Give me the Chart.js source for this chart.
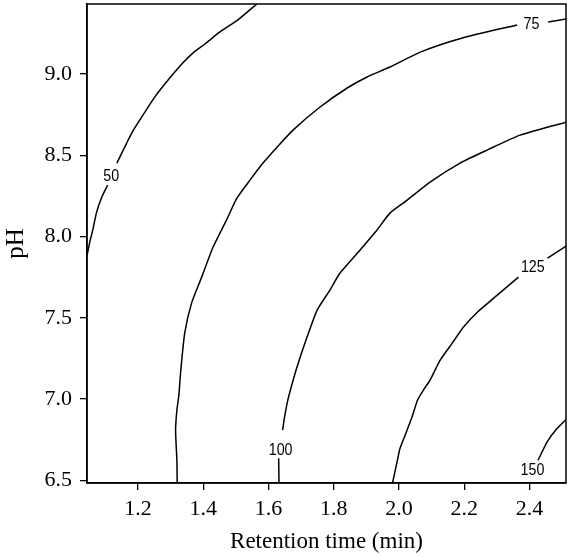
<!DOCTYPE html>
<html>
<head>
<meta charset="utf-8">
<title>Contour plot</title>
<script src="https://cdn.jsdelivr.net/npm/chart.js@4.4.1/dist/chart.umd.min.js"></script>
<style>
  html, body { margin: 0; padding: 0; background: #fff; }
  canvas { display: block; }
</style>
</head>
<body>
<canvas id="contour" width="569" height="557"></canvas>
<script>
// axis ticks
const xTicks = [1.2, 1.4, 1.6, 1.8, 2.0, 2.2, 2.4];
const yTicks = [6.5, 7.0, 7.5, 8.0, 8.5, 9.0];

// contour levels and where their labels sit (data units)
const levels = ['50', '75', '100', '125', '150'];
const labelX = [1.118, 2.406, 1.637, 2.410, 2.409];
const labelY = [8.370, 9.305, 6.687, 7.810, 6.560];

// contour lines (null = gap left for the label)
const c50x = [1.044, 1.052, 1.061, 1.073, 1.089, 1.107, null, 1.135, 1.147, 1.165, 1.184, 1.221, 1.251, 1.297, 1.337, 1.368, 1.405, 1.451, 1.506, 1.564];
const c50y = [7.885, 7.966, 8.039, 8.150, 8.243, 8.317, null, 8.452, 8.501, 8.575, 8.649, 8.766, 8.858, 8.975, 9.068, 9.129, 9.185, 9.259, 9.333, 9.431];

const c75x = [1.320, 1.319, 1.315, 1.319, 1.325, 1.331, 1.343, 1.364, 1.395, 1.430, 1.471, 1.503, 1.543, 1.583, 1.626, 1.675, 1.758, 1.841, 1.902, 1.972, 2.065, 2.194, 2.362, null, 2.457, 2.512];
const c75y = [6.483, 6.623, 6.808, 6.931, 7.023, 7.177, 7.405, 7.590, 7.750, 7.935, 8.101, 8.236, 8.347, 8.452, 8.550, 8.655, 8.797, 8.914, 8.982, 9.043, 9.135, 9.222, 9.302, null, 9.320, 9.339];

const c100x = [1.632, 1.631, null, 1.643, 1.650, 1.659, 1.671, 1.687, 1.718, 1.749, 1.788, 1.819, 1.880, 1.932, 1.972, 2.025, 2.095, 2.187, 2.270, 2.371, 2.512];
const c100y = [6.483, 6.636, null, 6.808, 6.900, 6.993, 7.085, 7.196, 7.381, 7.547, 7.670, 7.775, 7.916, 8.039, 8.144, 8.224, 8.335, 8.452, 8.532, 8.624, 8.704];

const c125x = [1.980, 1.993, 2.003, 2.019, 2.040, 2.057, 2.075, 2.095, 2.126, 2.163, 2.197, 2.240, 2.301, 2.366, null, 2.455, 2.512];
const c125y = [6.483, 6.605, 6.697, 6.779, 6.890, 6.995, 7.056, 7.116, 7.239, 7.344, 7.442, 7.534, 7.639, 7.750, null, 7.867, 7.941];

const c150x = [2.426, 2.454, 2.484, 2.512];
const c150y = [6.623, 6.736, 6.818, 6.874];

const serif = "'Liberation Serif', 'Times New Roman', serif";

function toPoints(xs, ys) {
  return xs.map(function (v, i) { return { x: v, y: ys[i] }; });
}

function contourSet(xs, ys) {
  return {
    data: toPoints(xs, ys),
    showLine: true,
    borderColor: '#000',
    borderWidth: 1.5,
    pointRadius: 0,
    tension: 0.2,
    spanGaps: false
  };
}

// box round the plot + level labels (narrowed a bit, like the original font)
const frameAndLabels = {
  id: 'frameAndLabels',
  afterDatasetsDraw(chart) {
    const ctx = chart.ctx;
    const a = chart.chartArea;
    const x = chart.scales.x, y = chart.scales.y;
    ctx.save();
    ctx.strokeStyle = '#000';
    ctx.lineWidth = 1.5;
    ctx.strokeRect(a.left, a.top, a.right - a.left, a.bottom - a.top);
    ctx.font = "17px 'Liberation Sans', sans-serif";
    ctx.fillStyle = '#000';
    ctx.textAlign = 'center';
    ctx.textBaseline = 'middle';
    levels.forEach(function (t, i) {
      ctx.save();
      ctx.translate(x.getPixelForValue(labelX[i]), y.getPixelForValue(labelY[i]));
      ctx.scale(0.84, 1);
      ctx.fillText(t, 0, 0);
      ctx.restore();
    });
    ctx.restore();
  }
};

new Chart(document.getElementById('contour'), {
  type: 'scatter',
  data: {
    datasets: [
      contourSet(c50x, c50y),
      contourSet(c75x, c75y),
      contourSet(c100x, c100y),
      contourSet(c125x, c125y),
      contourSet(c150x, c150y)
    ]
  },
  options: {
    responsive: false,
    animation: false,
    devicePixelRatio: 1,
    layout: { padding: { top: 4, right: 3, bottom: 0, left: 0 } },
    plugins: {
      legend: { display: false },
      tooltip: { enabled: false }
    },
    scales: {
      x: {
        type: 'linear',
        min: 1.0435,
        max: 2.5117,
        afterBuildTicks: function (s) { s.ticks = xTicks.map(function (v) { return { value: v }; }); },
        afterFit: function (s) { s.height = 74; s.paddingLeft = 0; s.paddingRight = 0; },
        ticks: {
          color: '#000',
          padding: 6,
          font: { family: serif, size: 22 },
          callback: function (v) { return Number(v).toFixed(1); }
        },
        grid: { drawOnChartArea: false, drawTicks: true, tickLength: 7, color: '#000', lineWidth: 1.3 },
        border: { display: true, color: '#000', width: 1.5 },
        title: {
          display: true,
          text: 'Retention time (min)',
          color: '#000',
          font: { family: serif, size: 23 },
          padding: { top: 0, bottom: 1 }
        }
      },
      y: {
        type: 'linear',
        min: 6.483,
        max: 9.431,
        afterBuildTicks: function (s) { s.ticks = yTicks.map(function (v) { return { value: v }; }); },
        afterFit: function (s) { s.width = 87; s.paddingTop = 0; s.paddingBottom = 0; },
        ticks: {
          color: '#000',
          padding: 8,
          font: { family: serif, size: 22 },
          callback: function (v) { return Number(v).toFixed(1); }
        },
        grid: { drawOnChartArea: false, drawTicks: true, tickLength: 7, color: '#000', lineWidth: 1.3 },
        border: { display: true, color: '#000', width: 1.5 },
        title: {
          display: true,
          text: 'pH',
          color: '#000',
          font: { family: serif, size: 25 },
          padding: { top: 1, bottom: 0 }
        }
      }
    }
  },
  plugins: [frameAndLabels]
});
</script>
</body>
</html>
